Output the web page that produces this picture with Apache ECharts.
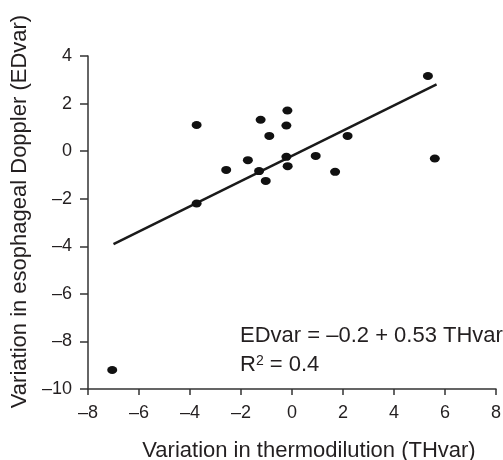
<!DOCTYPE html>
<html lang="en">
<head>
<meta charset="UTF-8">
<title>EDvar vs THvar</title>
<script src="https://cdn.jsdelivr.net/npm/echarts@6/dist/echarts.min.js"></script>
<style>
  html, body { margin: 0; padding: 0; background: #fff; }
  #chart { width: 503px; height: 460px; }
</style>
</head>
<body>
<div id="chart"></div>
<script>
// THvar (x) and EDvar (y) pairs
var thVar = [-3.74, -3.74, -2.58, -1.73, -1.29, -1.23, -1.03, -0.89, -0.18, -0.22, -0.22, -0.17, 5.33, 2.18, 0.93, 1.69, 5.6, -7.05];
var edVar = [1.10, -2.20, -0.79, -0.38, -0.84, 1.32, -1.25, 0.64, 1.71, 1.08, -0.24, -0.63, 3.16, 0.64, -0.2, -0.87, -0.31, -9.2];

// regression: EDvar = -0.2 + 0.53 THvar, drawn between these x values
var intercept = -0.2;
var slope = 0.53;
var fitRange = [-7.0, 5.67];

var pts = [];
for (var i = 0; i < thVar.length; i++) pts.push([thVar[i], edVar[i]]);
var fit = fitRange.map(function (x) { return [x, intercept + slope * x]; });

var ink = '#231f20';
var axisInk = '#333';
var font = 'Liberation Sans, Arial, sans-serif';
function dash(v) { return String(v).replace('-', '\u2013'); }

var chart = echarts.init(document.getElementById('chart'));
chart.setOption({
  animation: false,
  textStyle: { fontFamily: font },
  grid: { left: 88, right: 7, top: 56, bottom: 71, outerBoundsMode: 'none' },
  xAxis: {
    type: 'value', min: -8, max: 8, interval: 2,
    name: 'Variation in thermodilution (THvar)',
    nameLocation: 'middle', nameGap: 51,
    nameTextStyle: { fontSize: 22, color: ink, fontFamily: font, padding: [0, 0, 0, 34] },
    axisLine: { onZero: false, lineStyle: { color: axisInk, width: 1.5 } },
    axisTick: { length: 6, lineStyle: { color: axisInk, width: 1.5 } },
    axisLabel: { fontSize: 18, color: ink, margin: 15, formatter: dash },
    splitLine: { show: false }
  },
  yAxis: {
    type: 'value', min: -10, max: 4, interval: 2,
    name: 'Variation in esophageal Doppler (EDvar)',
    nameLocation: 'middle', nameGap: 54,
    nameTextStyle: { fontSize: 22, color: ink, fontFamily: font, padding: [0, 0, 0, 22] },
    axisLine: { show: true, onZero: false, lineStyle: { color: axisInk, width: 1.5 } },
    axisTick: { show: true, length: 8, lineStyle: { color: axisInk, width: 1.5 } },
    axisLabel: { fontSize: 18, color: ink, margin: 16, formatter: dash },
    splitLine: { show: false }
  },
  series: [
    {
      type: 'line', data: fit, symbol: 'none',
      lineStyle: { color: '#1a1a1a', width: 2.5 }, z: 2
    },
    {
      type: 'scatter', data: pts, symbol: 'circle', symbolSize: [10, 8],
      itemStyle: { color: '#111', opacity: 1 }, z: 3
    }
  ],
  graphic: [
    {
      type: 'text', left: 240, top: 325,
      style: {
        text: 'EDvar = \u20130.2 + 0.53 THvar',
        font: '22px ' + font, fill: ink
      }
    },
    {
      type: 'text', left: 240, top: 354,
      style: {
        text: '{a|R}{s|2}{a| = 0.4}',
        rich: {
          a: { fontSize: 22, fontFamily: font, fill: ink, color: ink, verticalAlign: 'bottom' },
          s: { fontSize: 14, fontFamily: font, fill: ink, color: ink, verticalAlign: 'top', padding: [0, 0, 8, 0] }
        }
      }
    }
  ]
});
</script>
</body>
</html>
